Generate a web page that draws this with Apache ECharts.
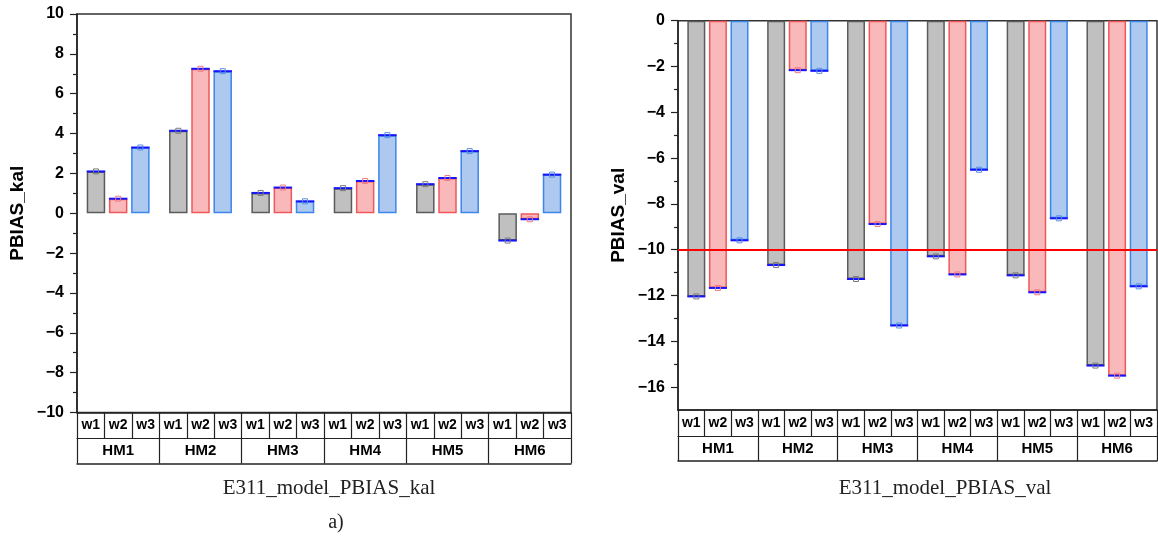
<!DOCTYPE html>
<html><head><meta charset="utf-8">
<script src="https://cdn.jsdelivr.net/npm/echarts@6/dist/echarts.min.js"></script>
<style>html,body{margin:0;padding:0;background:#fff}#c{width:1158px;height:538px}</style>
</head><body><div id="c"></div>
<script>
// ---------- data ----------
const groups = ['HM1', 'HM2', 'HM3', 'HM4', 'HM5', 'HM6'];
const weights = ['w1', 'w2', 'w3'];
const kal_w1 = [2.10, 4.14, 1.02, 1.26, 1.46, -1.37];
const kal_w2 = [0.73, 7.25, 1.29, 1.62, 1.77, -0.30];
const kal_w3 = [3.30, 7.13, 0.60, 3.92, 3.12, 1.94];
const val_w1 = [-12.04, -10.67, -11.28, -10.29, -11.12, -15.06];
const val_w2 = [-11.67, -2.16, -8.88, -11.08, -11.86, -15.50];
const val_w3 = [-9.59, -2.19, -13.31, -6.51, -8.63, -11.60];
const valThreshold = -10;
const kalTicks = [-10, -8, -6, -4, -2, 0, 2, 4, 6, 8, 10];
const kalMinorTicks = [-9, -7, -5, -3, -1, 1, 3, 5, 7, 9];
const valTicks = [-16, -14, -12, -10, -8, -6, -4, -2, 0];
const valMinorTicks = [-15, -13, -11, -9, -7, -5, -3, -1];
const kalRange = [-10, 10];
const valRange = [-17, 0];
const kalName = 'PBIAS_kal';
const valName = 'PBIAS_val';
const kalTitle = 'E311_model_PBIAS_kal';
const valTitle = 'E311_model_PBIAS_val';
const subLabel = 'a)';

// ---------- styles ----------
const SANS = 'Liberation Sans, Arial, sans-serif';
const SERIF = 'Liberation Serif, Times New Roman, serif';
const fills = ['#c0c0c0', '#f9b8b9', '#adc9f0'];
const borders = ['#5b5b5b', '#f0575b', '#3d86ec'];
const markCols = ['#7a7a7a', '#f07c80', '#5a8fe0'];
const capColor = '#1414ff';
const lineCol = '#222';

const subCats = groups.flatMap(g => weights.map(w => g + '|' + w));

function xAxesFor(gi) {
  return [
    { gridIndex: gi, type: 'category', data: groups, position: 'bottom',
      axisLine: { show: true, onZero: false, lineStyle: { color: lineCol, width: 1.5 } },
      axisTick: { show: false }, axisLabel: { show: false }, splitLine: { show: false } },
    { gridIndex: gi, type: 'category', data: subCats, position: 'bottom', offset: 0,
      axisLine: { show: false, onZero: false },
      axisTick: { show: true, inside: false, length: 26, interval: 0, lineStyle: { color: lineCol, width: 1.2 } },
      axisLabel: { show: true, interval: 0, margin: 6, formatter: v => v.split('|')[1],
        fontFamily: SANS, fontWeight: 'bold', fontSize: 14, color: '#000' },
      splitLine: { show: false } },
    { gridIndex: gi, type: 'category', data: groups, position: 'bottom', offset: 26,
      axisLine: { show: true, onZero: false, lineStyle: { color: lineCol, width: 1.2 } },
      axisTick: { show: true, inside: false, length: 25, interval: 0, lineStyle: { color: lineCol, width: 1.2 } },
      axisLabel: { show: true, interval: 0, margin: 5,
        fontFamily: SANS, fontWeight: 'bold', fontSize: 15, color: '#000' },
      splitLine: { show: false } },
    { gridIndex: gi, type: 'category', data: groups, position: 'bottom', offset: 51,
      axisLine: { show: true, onZero: false, lineStyle: { color: lineCol, width: 1.5 } },
      axisTick: { show: false }, axisLabel: { show: false }, splitLine: { show: false } }
  ];
}

function yAxesFor(gi, range, ticks, minor, name) {
  return [
    { gridIndex: gi, type: 'value', position: 'left', min: range[0], max: range[1],
      name: name, nameLocation: 'middle', nameGap: 50,
      nameTextStyle: { fontFamily: SANS, fontWeight: 'bold', fontSize: 19, color: '#000' },
      axisLine: { show: true, onZero: false, lineStyle: { color: lineCol, width: 1.5 } },
      axisTick: { show: true, inside: false, length: 7, customValues: ticks, lineStyle: { color: lineCol, width: 1.2 } },
      axisLabel: { show: true, margin: 13, customValues: ticks,
        formatter: v => (v < 0 ? '\u2212' + Math.abs(v) : String(v)),
        fontFamily: SANS, fontWeight: 'bold', fontSize: 16, color: '#000' },
      splitLine: { show: false } },
    { gridIndex: gi, type: 'value', position: 'left', min: range[0], max: range[1],
      axisLine: { show: false, onZero: false },
      axisTick: { show: true, inside: false, length: 4, customValues: minor, lineStyle: { color: lineCol, width: 1.2 } },
      axisLabel: { show: false }, splitLine: { show: false } }
  ];
}

function capRenderer(k, bw, spacing) {
  return function (params, api) {
    const p = api.coord([api.value(0), api.value(1)]);
    const x = p[0] + (k - 1) * spacing;
    return {
      type: 'group',
      children: [
        { type: 'line', shape: { x1: x - bw / 2, y1: p[1], x2: x + bw / 2, y2: p[1] },
          style: { stroke: capColor, lineWidth: 2 } },
        { type: 'rect', shape: { x: x - 2.5, y: p[1] - 2.5, width: 5, height: 5 },
          style: { fill: 'none', stroke: markCols[k], lineWidth: 1 } }
      ]
    };
  };
}

function seriesFor(xi, yi, arrays, bw, markLineVal) {
  const gap = 0.2;
  const spacing = bw * (1 + gap);
  const out = [];
  arrays.forEach((arr, k) => {
    const s = {
      type: 'bar', name: weights[k], xAxisIndex: xi, yAxisIndex: yi, data: arr,
      barWidth: bw, barGap: (gap * 100) + '%',
      itemStyle: { color: fills[k], borderColor: borders[k], borderWidth: 1.5 },
      emphasis: { disabled: true }, animation: false, z: 2
    };
    if (markLineVal !== undefined && k === 0) {
      s.markLine = {
        silent: true, symbol: ['none', 'none'], label: { show: false },
        lineStyle: { color: '#ff0000', width: 2, type: 'solid' },
        data: [{ yAxis: markLineVal }], animation: false
      };
    }
    out.push(s);
  });
  arrays.forEach((arr, k) => {
    out.push({
      type: 'custom', xAxisIndex: xi, yAxisIndex: yi,
      data: arr.map((v, i) => [i, v]),
      renderItem: capRenderer(k, bw, spacing), z: 5, animation: false, silent: true
    });
  });
  return out;
}

const chart = echarts.init(document.getElementById('c'), null, { renderer: 'canvas' });
const option = {
  backgroundColor: '#ffffff',
  animation: false,
  grid: [
    { left: 77, top: 14, width: 494, height: 398.5, show: true, borderColor: '#333', borderWidth: 1.5, backgroundColor: 'transparent' },
    { left: 678, top: 20.7, width: 479, height: 389.3, show: true, borderColor: '#333', borderWidth: 1.5, backgroundColor: 'transparent' }
  ],
  xAxis: [...xAxesFor(0), ...xAxesFor(1)],
  yAxis: [...yAxesFor(0, kalRange, kalTicks, kalMinorTicks, kalName),
          ...yAxesFor(1, valRange, valTicks, valMinorTicks, valName)],
  series: [
    ...seriesFor(0, 0, [kal_w1, kal_w2, kal_w3], 18.5),
    ...seriesFor(4, 2, [val_w1, val_w2, val_w3], 18, valThreshold)
  ],
  graphic: [
    { type: 'text', x: 329, y: 488, style: { text: kalTitle, font: '21px ' + SERIF, fill: '#222', textAlign: 'center', textVerticalAlign: 'middle' } },
    { type: 'text', x: 336, y: 523, style: { text: subLabel, font: '20px ' + SERIF, fill: '#222', textAlign: 'center', textVerticalAlign: 'middle' } },
    { type: 'text', x: 945, y: 488, style: { text: valTitle, font: '21px ' + SERIF, fill: '#222', textAlign: 'center', textVerticalAlign: 'middle' } }
  ]
};
chart.setOption(option);
</script>
</body></html>
